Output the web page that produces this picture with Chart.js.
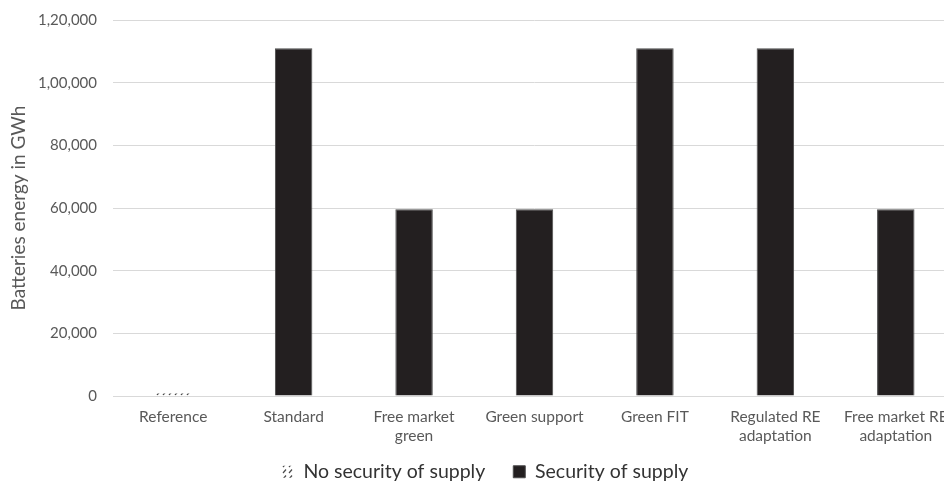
<!DOCTYPE html>
<html>
<head>
<meta charset="utf-8">
<script src="https://cdn.jsdelivr.net/npm/chart.js@4/dist/chart.umd.min.js"></script>
<style>
  html, body { margin: 0; padding: 0; background: #fff; overflow: hidden; }
  #wrap { width: 970px; height: 488px; position: relative; }
</style>
</head>
<body>
<div id="wrap"><canvas id="chart"></canvas></div>
<script>
// Scenario categories (multi-line labels as drawn under the axis)
const categories = [
  "Reference",
  "Standard",
  ["Free market", "green"],
  "Green support",
  "Green FIT",
  ["Regulated RE", "adaptation"],
  ["Free market RE", "adaptation"]
];

// Battery energy in GWh per scenario
const noSecuritySupply = [800, null, null, null, null, null, null];
const securitySupply   = [null, 111000, 59600, 59600, 111000, 111000, 59600];

// Y-axis tick values
const yTickValues = [0, 20000, 40000, 60000, 80000, 100000, 120000];

// Indian digit grouping (1,20,000)
function formatIN(v) {
  const s = String(Math.round(v));
  if (s.length <= 3) return s;
  const last3 = s.slice(-3);
  const rest = s.slice(0, -3).replace(/\B(?=(\d{2})+(?!\d))/g, ",");
  return rest + "," + last3;
}

// Sparse diagonal-dash hatch fill
function makeHatch() {
  const c = document.createElement("canvas");
  c.width = 6; c.height = 6;
  const g = c.getContext("2d");
  g.strokeStyle = "#4a4a4a";
  g.lineWidth = 1.2;
  g.beginPath();
  g.moveTo(1, 5);
  g.lineTo(4, 1.5);
  g.stroke();
  return g.createPattern(c, "repeat");
}

const FONT = "Lato, 'Open Sans', sans-serif";
const hatch = makeHatch();

// Legend: compact box, drawn with a small offset of its own bounds
const LEGEND_HEIGHT = 42;
const LEGEND_SHIFT_X = 7;
const LEGEND_SHIFT_Y = -12;
const legendTweak = {
  id: "legendTweak",
  afterInit(chart) {
    const lg = chart.legend;
    if (!lg) return;
    const fit = lg.fit;
    lg.fit = function () { fit.call(this); this.height = LEGEND_HEIGHT; };
    const draw = lg.draw;
    lg.draw = function () {
      const { left, right, top } = this;
      this.left = left + LEGEND_SHIFT_X;
      this.right = right + LEGEND_SHIFT_X;
      this.top = top + LEGEND_SHIFT_Y;
      draw.apply(this, arguments);
      this.left = left;
      this.right = right;
      this.top = top;
    };
  }
};

new Chart(document.getElementById("chart"), {
  type: "bar",
  data: {
    labels: categories,
    datasets: [
      {
        label: "No security of supply",
        data: noSecuritySupply,
        backgroundColor: hatch,
        borderColor: "rgba(0,0,0,0)",
        borderWidth: 0
      },
      {
        label: "Security of supply",
        data: securitySupply,
        backgroundColor: "#231f20",
        borderColor: "#4d4d4d",
        borderWidth: 1
      }
    ]
  },
  plugins: [legendTweak],
  options: {
    responsive: true,
    maintainAspectRatio: false,
    animation: false,
    layout: { padding: { top: 20, right: 14, bottom: 0, left: 0 } },
    datasets: {
      bar: { categoryPercentage: 1.0, barPercentage: 0.311 }
    },
    scales: {
      x: {
        stacked: true,
        grid: { display: false, drawTicks: false },
        border: { display: true, color: "#d9d9d9", width: 1 },
        ticks: {
          color: "#595959",
          font: { family: FONT, size: 15.5 },
          padding: 12,
          maxRotation: 0,
          autoSkip: false
        },
        afterFit: (s) => { s.height = 50; }
      },
      y: {
        stacked: true,
        min: 0,
        max: 120000,
        grid: { color: "#d9d9d9", lineWidth: 1, drawTicks: false },
        border: { display: false },
        afterBuildTicks: (axis) => { axis.ticks = yTickValues.map(v => ({ value: v })); },
        ticks: {
          color: "#595959",
          font: { family: FONT, size: 15 },
          padding: 16,
          callback: (v) => formatIN(v)
        },
        title: {
          display: true,
          text: "Batteries energy in GWh",
          color: "#595959",
          font: { family: FONT, size: 19 },
          padding: { top: 7, bottom: 4 }
        },
        afterFit: (s) => {
          s.width = 113;
          s.paddingTop = 0;
          s.paddingBottom = 0;
        }
      }
    },
    plugins: {
      legend: {
        position: "bottom",
        labels: {
          color: "#333333",
          font: { family: FONT, size: 19.5 },
          boxWidth: 12,
          boxHeight: 12,
          padding: 28
        }
      },
      tooltip: { enabled: false }
    }
  }
});
</script>
</body>
</html>
